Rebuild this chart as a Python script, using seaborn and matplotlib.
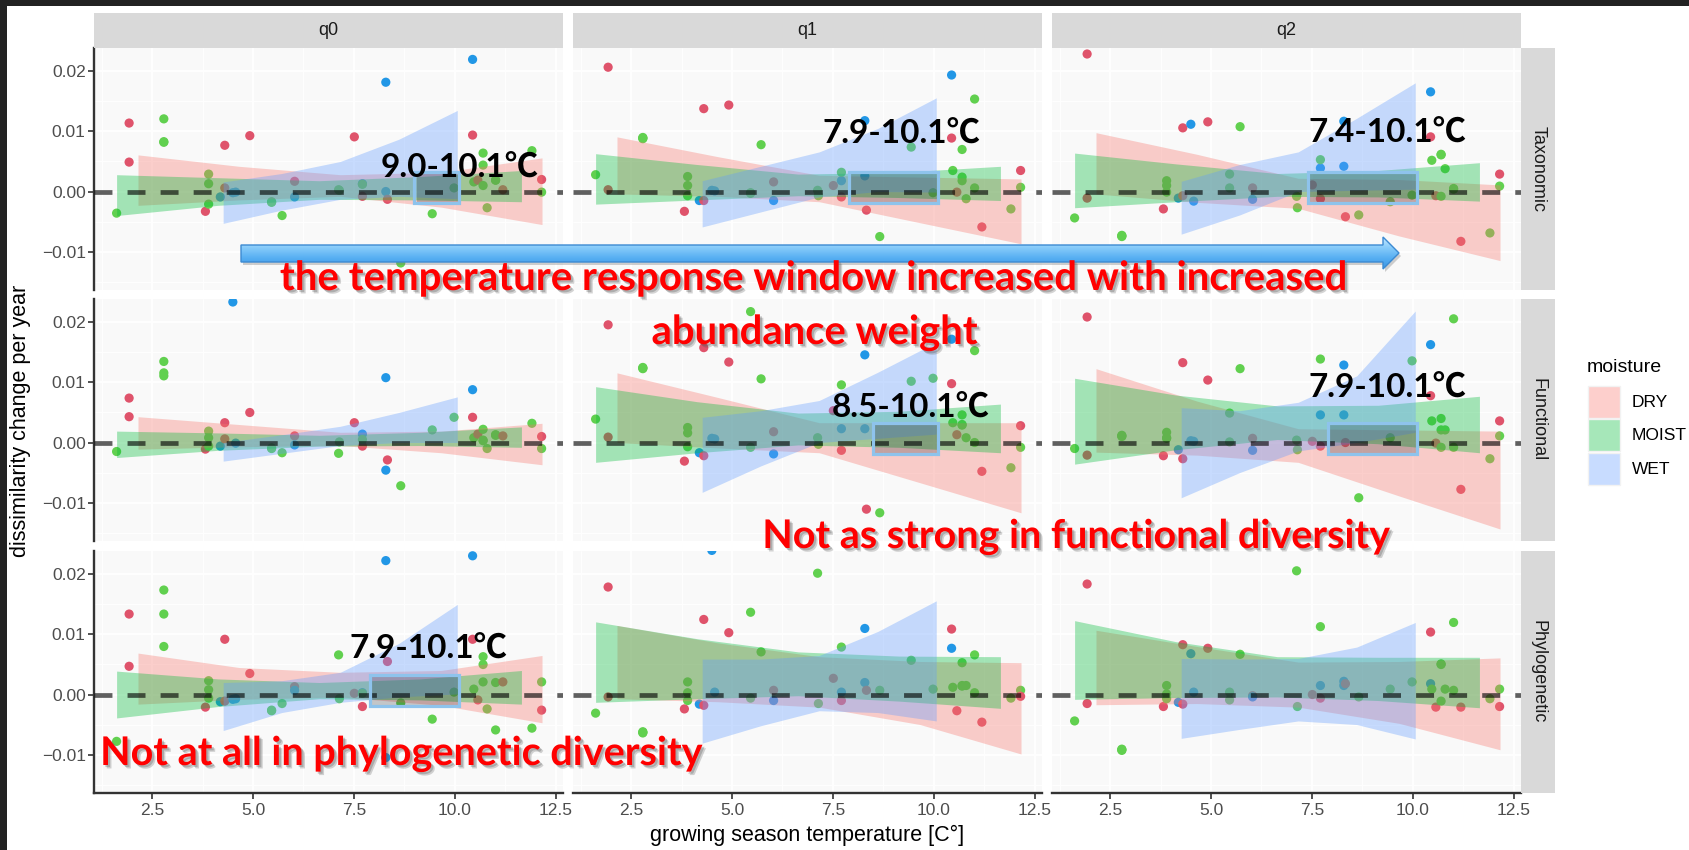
import numpy as np
import pandas as pd
import matplotlib
matplotlib.use("Agg")
import matplotlib.pyplot as plt
import matplotlib.patheffects as pe
from matplotlib.patches import Rectangle, Polygon
from matplotlib.colors import LinearSegmentedColormap, to_rgb
from matplotlib.ticker import FuncFormatter, FixedLocator
import seaborn as sns

# ---------------------------------------------------------------- data
metrics = ["Taxonomic", "Functional", "Phylogenetic"]
orders = ["q0", "q1", "q2"]
moisture_levels = ["DRY", "MOIST", "WET"]

# growing season temperature and moisture class of each site
temp = [1.62, 1.93, 1.93, 2.79, 2.79, 2.79, 3.82, 3.90, 3.90, 3.90, 4.19, 4.30,
        4.30, 4.50, 4.57, 4.92, 5.46, 5.46, 5.72, 6.03, 6.03, 7.12, 7.14, 7.51,
        7.71, 7.71, 7.71, 8.29, 8.29, 8.33, 8.66, 9.44, 9.98, 10.44, 10.44, 10.47,
        10.57, 10.70, 10.70, 10.70, 10.80, 11.01, 11.01, 11.19, 11.91, 12.15, 12.15]
moisture = ["MOIST", "DRY", "DRY", "MOIST", "MOIST", "MOIST", "DRY", "MOIST", "MOIST",
            "MOIST", "WET", "DRY", "DRY", "WET", "WET", "DRY", "MOIST", "MOIST", "MOIST",
            "DRY", "WET", "MOIST", "MOIST", "DRY", "WET", "DRY", "MOIST", "WET", "WET",
            "DRY", "MOIST", "MOIST", "MOIST", "WET", "DRY", "MOIST", "DRY", "MOIST",
            "MOIST", "MOIST", "MOIST", "MOIST", "MOIST", "DRY", "MOIST", "MOIST", "DRY"]

# dissimilarity change per year, one value per site
tax_q0 = [-0.0036, 0.0114, 0.0049, 0.0121, 0.0083, 0.0082, -0.0033, 0.0029, 0.0013, -0.0021,
          -0.0009, 0.0077, 0.0006, -0.0002, -0.0001, 0.0093, -0.0018, -0.0017, -0.0040, 0.0017,
          -0.0009, 0.0003, 0.0002, 0.0091, 0.0013, -0.0008, 0.0012, 0.0182, 0.0000, -0.0013,
          -0.0119, -0.0037, 0.0006, 0.0220, 0.0094, 0.0016, 0.0019, 0.0064, 0.0044, 0.0010,
          -0.0027, 0.0019, 0.0019, 0.0003, 0.0068, -0.0001, 0.0020]
tax_q1 = [0.0028, 0.0207, 0.0003, 0.0089, 0.0088, 0.0090, -0.0033, 0.0025, 0.0010, -0.0007,
          -0.0015, 0.0138, -0.0015, 0.0002, 0.0001, 0.0144, -0.0002, -0.0003, 0.0078, 0.0016,
          -0.0015, 0.0002, -0.0007, 0.0010, 0.0018, -0.0009, 0.0032, 0.0118, 0.0026, -0.0031,
          -0.0075, 0.0074, -0.0002, 0.0194, 0.0089, 0.0035, -0.0001, 0.0070, 0.0024, 0.0018,
          -0.0012, 0.0154, 0.0006, -0.0059, -0.0029, 0.0007, 0.0035]
tax_q2 = [-0.0044, 0.0229, -0.0011, -0.0074, -0.0073, -0.0075, -0.0029, 0.0018, 0.0010, -0.0001,
          -0.0011, 0.0106, -0.0007, 0.0112, -0.0016, 0.0116, 0.0029, 0.0006, 0.0108, 0.0006,
          -0.0013, -0.0008, -0.0027, 0.0011, 0.0039, -0.0012, 0.0053, 0.0117, 0.0042, -0.0042,
          -0.0039, -0.0017, -0.0006, 0.0166, 0.0091, 0.0052, -0.0007, 0.0062, -0.0008, 0.0061,
          0.0038, 0.0004, 0.0005, -0.0083, -0.0069, 0.0009, 0.0029]
fun_q0 = [-0.0015, 0.0074, 0.0043, 0.0135, 0.0116, 0.0111, -0.0011, 0.0019, 0.0008, -0.0006,
          -0.0006, 0.0033, 0.0006, 0.0234, -0.0001, 0.0050, -0.0010, -0.0009, -0.0017, 0.0011,
          -0.0004, -0.0018, 0.0001, 0.0033, 0.0014, -0.0006, 0.0005, 0.0108, -0.0046, -0.0029,
          -0.0072, 0.0021, 0.0042, 0.0088, 0.0042, 0.0008, 0.0014, 0.0022, 0.0003, 0.0004,
          -0.0010, 0.0013, 0.0012, 0.0011, 0.0032, -0.0010, 0.0010]
fun_q1 = [0.0039, 0.0196, 0.0009, 0.0124, 0.0123, 0.0125, -0.0031, 0.0025, 0.0016, -0.0007,
          -0.0017, 0.0158, -0.0022, 0.0007, 0.0006, 0.0134, 0.0218, -0.0008, 0.0106, 0.0018,
          -0.0019, 0.0008, -0.0003, 0.0053, 0.0023, -0.0013, 0.0096, 0.0146, 0.0023, -0.0111,
          -0.0117, 0.0102, 0.0107, 0.0172, 0.0098, 0.0033, 0.0013, 0.0046, 0.0029, 0.0030,
          0.0008, 0.0153, 0.0000, -0.0048, -0.0042, -0.0008, 0.0028]
fun_q2 = [-0.0010, 0.0209, -0.0021, 0.0011, 0.0012, 0.0010, -0.0022, 0.0017, 0.0008, 0.0007,
          -0.0012, 0.0133, -0.0027, 0.0003, 0.0002, 0.0104, 0.0049, 0.0001, 0.0123, 0.0007,
          -0.0013, 0.0004, -0.0012, 0.0002, 0.0046, -0.0006, 0.0139, 0.0129, 0.0046, 0.0000,
          -0.0092, 0.0008, 0.0136, 0.0163, 0.0078, 0.0036, -0.0001, 0.0040, 0.0021, -0.0008,
          0.0021, 0.0206, -0.0008, -0.0078, -0.0027, 0.0011, 0.0036]
phy_q0 = [-0.0078, 0.0134, 0.0047, 0.0174, 0.0134, 0.0080, -0.0021, 0.0023, 0.0008, -0.0006,
          -0.0012, 0.0092, -0.0011, -0.0008, -0.0007, 0.0035, -0.0027, -0.0026, -0.0015, 0.0013,
          0.0007, 0.0066, -0.0007, 0.0002, 0.0003, -0.0020, 0.0002, 0.0223, -0.0105, 0.0055,
          -0.0014, -0.0041, 0.0004, 0.0231, 0.0092, 0.0009, -0.0009, 0.0063, 0.0050, 0.0021,
          -0.0024, 0.0020, -0.0059, 0.0021, -0.0056, 0.0021, -0.0026]
phy_q1 = [-0.0031, 0.0179, -0.0004, -0.0063, -0.0062, -0.0064, -0.0024, 0.0021, 0.0003, -0.0010,
          -0.0016, 0.0125, -0.0018, 0.0240, 0.0004, 0.0103, 0.0137, -0.0006, 0.0071, 0.0007,
          -0.0010, 0.0202, -0.0015, 0.0027, 0.0004, -0.0010, 0.0079, 0.0110, 0.0020, 0.0007,
          0.0007, 0.0057, 0.0009, 0.0077, 0.0109, 0.0012, -0.0027, 0.0053, 0.0015, 0.0014,
          0.0015, 0.0066, 0.0003, -0.0046, -0.0006, 0.0007, -0.0003]
phy_q2 = [-0.0044, 0.0184, -0.0015, -0.0092, -0.0091, -0.0093, -0.0020, 0.0015, 0.0001, -0.0007,
          -0.0013, 0.0083, -0.0016, 0.0068, 0.0004, 0.0077, 0.0004, -0.0009, 0.0067, -0.0002,
          -0.0004, 0.0206, -0.0020, 0.0000, 0.0015, -0.0006, 0.0113, 0.0022, 0.0015, 0.0018,
          -0.0004, 0.0009, 0.0021, 0.0018, 0.0104, 0.0009, -0.0021, 0.0051, -0.0011, 0.0050,
          0.0009, 0.0120, 0.0007, -0.0021, -0.0007, 0.0009, -0.0020]

# confidence ribbons: temperatures at which the bounds are given, per moisture class
band_temp = {"DRY": [2.15, 4.65, 7.16, 9.66, 12.16],
             "MOIST": [1.62, 4.13, 6.64, 9.14, 11.65],
             "WET": [4.26, 5.71, 7.16, 8.61, 10.06]}

# (lower, upper) bounds of each ribbon
tax_q0_band = {"DRY": ([-0.0023, -0.0014, -0.0008, -0.0026, -0.0055], [0.0061, 0.0042, 0.0028, 0.0032, 0.0056]),
               "MOIST": ([-0.0040, -0.0023, -0.0013, -0.0014, -0.0017], [0.0028, 0.0023, 0.0018, 0.0025, 0.0035]),
               "WET": ([-0.0053, -0.0031, -0.0013, -0.0008, -0.0012], [0.0016, 0.0030, 0.0050, 0.0087, 0.0135])}
tax_q1_band = {"DRY": ([-0.0004, -0.0008, -0.0017, -0.0052, -0.0087], [0.0091, 0.0058, 0.0027, 0.0024, 0.0021]),
               "MOIST": ([-0.0021, -0.0014, -0.0007, -0.0010, -0.0015], [0.0063, 0.0045, 0.0029, 0.0032, 0.0042]),
               "WET": ([-0.0059, -0.0034, -0.0009, 0.0000, -0.0001], [0.0018, 0.0042, 0.0066, 0.0105, 0.0156])}
tax_q2_band = {"DRY": ([-0.0004, -0.0018, -0.0028, -0.0074, -0.0115], [0.0098, 0.0062, 0.0022, 0.0020, 0.0011]),
               "MOIST": ([-0.0027, -0.0017, -0.0008, -0.0009, -0.0016], [0.0064, 0.0046, 0.0030, 0.0035, 0.0048]),
               "WET": ([-0.0071, -0.0039, 0.0000, 0.0002, 0.0004], [0.0017, 0.0045, 0.0066, 0.0122, 0.0181])}
fun_q0_band = {"DRY": ([-0.0011, -0.0007, -0.0005, -0.0017, -0.0037], [0.0043, 0.0030, 0.0017, 0.0019, 0.0032]),
               "MOIST": ([-0.0025, -0.0013, -0.0006, -0.0005, -0.0008], [0.0019, 0.0016, 0.0012, 0.0017, 0.0026]),
               "WET": ([-0.0031, -0.0018, -0.0005, 0.0000, 0.0000], [0.0000, 0.0013, 0.0027, 0.0050, 0.0076])}
fun_q1_band = {"DRY": ([0.0000, -0.0009, -0.0017, -0.0067, -0.0117], [0.0116, 0.0075, 0.0033, 0.0033, 0.0033]),
               "MOIST": ([-0.0033, -0.0017, -0.0004, -0.0008, -0.0017], [0.0093, 0.0068, 0.0049, 0.0052, 0.0064]),
               "WET": ([-0.0083, -0.0039, 0.0000, 0.0007, 0.0014], [0.0042, 0.0053, 0.0070, 0.0117, 0.0167])}
fun_q2_band = {"DRY": ([-0.0016, -0.0021, -0.0033, -0.0089, -0.0144], [0.0123, 0.0069, 0.0023, 0.0021, 0.0019]),
               "MOIST": ([-0.0036, -0.0012, 0.0005, -0.0002, -0.0017], [0.0107, 0.0079, 0.0061, 0.0062, 0.0077]),
               "WET": ([-0.0092, -0.0050, -0.0014, 0.0000, 0.0017], [0.0058, 0.0053, 0.0067, 0.0111, 0.0219])}
phy_q0_band = {"DRY": ([-0.0016, -0.0008, -0.0004, -0.0018, -0.0047], [0.0069, 0.0045, 0.0037, 0.0040, 0.0065]),
               "MOIST": ([-0.0039, -0.0020, -0.0007, -0.0009, -0.0016], [0.0039, 0.0026, 0.0020, 0.0026, 0.0040]),
               "WET": ([-0.0060, -0.0030, -0.0013, -0.0004, 0.0001], [0.0020, 0.0023, 0.0037, 0.0085, 0.0150])}
phy_q1_band = {"DRY": ([-0.0007, -0.0012, -0.0021, -0.0050, -0.0099], [0.0115, 0.0086, 0.0063, 0.0055, 0.0053]),
               "MOIST": ([-0.0013, -0.0007, -0.0002, -0.0011, -0.0023], [0.0121, 0.0093, 0.0071, 0.0064, 0.0063]),
               "WET": ([-0.0081, -0.0052, -0.0027, -0.0030, -0.0044], [0.0059, 0.0059, 0.0065, 0.0105, 0.0156])}
phy_q2_band = {"DRY": ([-0.0017, -0.0015, -0.0021, -0.0048, -0.0092], [0.0107, 0.0080, 0.0054, 0.0055, 0.0061]),
               "MOIST": ([-0.0008, -0.0005, -0.0004, -0.0010, -0.0022], [0.0123, 0.0088, 0.0063, 0.0062, 0.0062]),
               "WET": ([-0.0073, -0.0058, -0.0044, -0.0050, -0.0074], [0.0060, 0.0059, 0.0060, 0.0079, 0.0120])}

# temperature response windows (start, end) highlighted in some panels
window_tax_q0 = (9.0, 10.1)
window_tax_q1 = (7.9, 10.1)
window_tax_q2 = (7.4, 10.1)
window_fun_q1 = (8.5, 10.1)
window_fun_q2 = (7.9, 10.1)
window_phy_q0 = (7.9, 10.1)

x_ticks = [2.5, 5.0, 7.5, 10.0, 12.5]
y_ticks = [-0.01, 0.00, 0.01, 0.02]

headline = ["the temperature response window increased with increased", "abundance weight"]
note_functional = "Not as strong in functional diversity"
note_phylogenetic = "Not at all in phylogenetic diversity"

# ---------------------------------------------------------------- tables
values = {("Taxonomic", "q0"): tax_q0, ("Taxonomic", "q1"): tax_q1, ("Taxonomic", "q2"): tax_q2,
          ("Functional", "q0"): fun_q0, ("Functional", "q1"): fun_q1, ("Functional", "q2"): fun_q2,
          ("Phylogenetic", "q0"): phy_q0, ("Phylogenetic", "q1"): phy_q1, ("Phylogenetic", "q2"): phy_q2}
bands = {("Taxonomic", "q0"): tax_q0_band, ("Taxonomic", "q1"): tax_q1_band, ("Taxonomic", "q2"): tax_q2_band,
         ("Functional", "q0"): fun_q0_band, ("Functional", "q1"): fun_q1_band, ("Functional", "q2"): fun_q2_band,
         ("Phylogenetic", "q0"): phy_q0_band, ("Phylogenetic", "q1"): phy_q1_band, ("Phylogenetic", "q2"): phy_q2_band}
windows = {("Taxonomic", "q0"): window_tax_q0, ("Taxonomic", "q1"): window_tax_q1,
           ("Taxonomic", "q2"): window_tax_q2, ("Functional", "q1"): window_fun_q1,
           ("Functional", "q2"): window_fun_q2, ("Phylogenetic", "q0"): window_phy_q0}

records = []
for (metric, q), vals in values.items():
    for t, m, v in zip(temp, moisture, vals):
        records.append({"metric": metric, "q": q, "temp": t, "moisture": m, "value": v})
df = pd.DataFrame(records)

# ---------------------------------------------------------------- style
point_pal = {"DRY": "#DF536B", "MOIST": "#61D04F", "WET": "#2297E6"}
fill_pal = {"DRY": "#F8766D", "MOIST": "#00BA38", "WET": "#619CFF"}
fill_alpha = 0.35

sns.set_theme(style="white")
plt.rcParams["font.family"] = ["Liberation Sans", "DejaVu Sans"]

W, H = 1690, 850
fig = plt.figure(figsize=(W / 100, H / 100), dpi=100, facecolor="white")


def px_axes(x0, y0, x1, y1, **kw):
    return fig.add_axes([x0 / W, 1 - y1 / H, (x1 - x0) / W, (y1 - y0) / H], **kw)


col_px = [(94, 563), (573, 1042), (1052, 1521)]
row_px = [(48, 290), (299, 541), (551, 793)]
strip_top = (13, 48)
strip_right = (1521, 1555)

x_minor = [1.25, 3.75, 6.25, 8.75, 11.25]
y_minor = [-0.015, -0.005, 0.005, 0.015]
axis_col = "#333333"
label_col = "#4D4D4D"

fmt_y = FuncFormatter(lambda v, p: f"{v:.2f}".replace("-", "\u2212"))
fmt_x = FuncFormatter(lambda v, p: f"{v:.1f}")

box_lo, box_hi = -0.0019, 0.0033

for i, metric in enumerate(metrics):
    for j, q in enumerate(orders):
        ax = px_axes(col_px[j][0], row_px[i][0], col_px[j][1], row_px[i][1])
        ax.set_facecolor("#F9F9F9")
        sub = df[(df.metric == metric) & (df.q == q)]
        sns.scatterplot(data=sub, x="temp", y="value", hue="moisture",
                        hue_order=moisture_levels, palette=point_pal, s=44,
                        linewidth=0, legend=False, ax=ax, zorder=2)
        for m in moisture_levels:
            lo, hi = bands[(metric, q)][m]
            ax.fill_between(band_temp[m], lo, hi, color=fill_pal[m], alpha=fill_alpha,
                            lw=0, zorder=3)
        ax.axhline(0, color="black", alpha=0.62, lw=3.4, dashes=(3.8, 3.2), zorder=4)

        if (metric, q) in windows:
            w0, w1 = windows[(metric, q)]
            rect = Rectangle((w0, box_lo), w1 - w0, box_hi - box_lo, fill=True,
                             facecolor=(0.1, 0.2, 0.3, 0.025), edgecolor="#8EC3EC",
                             lw=2.3, zorder=5)
            rect.set_path_effects([pe.SimplePatchShadow(offset=(1.5, -1.5), alpha=0.2),
                                   pe.Normal()])
            ax.add_patch(rect)

        ax.set_xlim(1.06, 12.68)
        ax.set_ylim(-0.0164, 0.0239)
        ax.xaxis.set_major_locator(FixedLocator(x_ticks))
        ax.xaxis.set_minor_locator(FixedLocator(x_minor))
        ax.yaxis.set_major_locator(FixedLocator(y_ticks))
        ax.yaxis.set_minor_locator(FixedLocator(y_minor))
        ax.xaxis.set_major_formatter(fmt_x)
        ax.yaxis.set_major_formatter(fmt_y)
        ax.grid(True, which="major", color="white", lw=1.3)
        ax.grid(True, which="minor", color="white", lw=0.6)
        ax.set_axisbelow(True)
        ax.set_xlabel("")
        ax.set_ylabel("")
        for s in ax.spines.values():
            s.set_visible(False)
        ax.tick_params(which="both", left=False, bottom=False, length=0,
                       labelleft=False, labelbottom=False)
        if j == 0:
            ax.spines["left"].set_visible(True)
            ax.spines["left"].set_color(axis_col)
            ax.spines["left"].set_linewidth(1.7)
            ax.tick_params(axis="y", which="major", left=True, length=4, width=1.2,
                           color=axis_col, labelleft=True, labelsize=12.5,
                           labelcolor=label_col, pad=2)
        if i == 2:
            ax.spines["bottom"].set_visible(True)
            ax.spines["bottom"].set_color(axis_col)
            ax.spines["bottom"].set_linewidth(1.7)
            ax.tick_params(axis="x", which="major", bottom=True, length=4, width=1.2,
                           color=axis_col, labelbottom=True, labelsize=12.5,
                           labelcolor=label_col, pad=3)

# facet strips
for j, q in enumerate(orders):
    sax = px_axes(col_px[j][0], strip_top[0], col_px[j][1], strip_top[1])
    sax.set_facecolor("#D9D9D9")
    sax.set_xticks([]); sax.set_yticks([])
    for s in sax.spines.values():
        s.set_visible(False)
    sax.text(0.5, 0.5, q, ha="center", va="center", size=13, color="#1A1A1A",
             transform=sax.transAxes)
for i, metric in enumerate(metrics):
    sax = px_axes(strip_right[0], row_px[i][0], strip_right[1], row_px[i][1])
    sax.set_facecolor("#D9D9D9")
    sax.set_xticks([]); sax.set_yticks([])
    for s in sax.spines.values():
        s.set_visible(False)
    sax.text(0.5, 0.5, metric, ha="center", va="center", rotation=-90, size=13,
             color="#1A1A1A", transform=sax.transAxes)

fig.text(21 / W, 1 - 421 / H, "dissimilarity change per year", rotation=90,
         ha="center", va="center", size=15.5, color="black")
fig.text(807.5 / W, 1 - 835 / H, "growing season temperature [C°]",
         ha="center", va="center", size=15.5, color="black")

# ---------------------------------------------------------------- overlay (pixel coordinates)
ov = fig.add_axes([0, 0, 1, 1], zorder=10)
ov.set_xlim(0, W)
ov.set_ylim(H, 0)
ov.set_autoscale_on(False)
ov.axis("off")
ov.patch.set_alpha(0)

# screen frame
ov.add_patch(Rectangle((0, 0), W, 6, color="#222222", lw=0))
ov.add_patch(Rectangle((0, 0), 7, H, color="#222222", lw=0))

# legend
ov.text(1587, 367, "moisture", ha="left", va="center", size=14, color="black")
key_top = [386, 419, 453]
for m, y0 in zip(moisture_levels, key_top):
    c = np.array(to_rgb(fill_pal[m]))
    blended = 1 - fill_alpha * (1 - c)
    ov.add_patch(Rectangle((1588, y0), 32, 32, facecolor=blended, edgecolor="#F2F2F2", lw=1))
    ov.text(1632, y0 + 16.5, m, ha="left", va="center", size=12.5, color="black")

renderer = fig.canvas.get_renderer()


def fit_text(x, y, s, width, **kw):
    t = ov.text(x, y, s, fontsize=20, **kw)
    for _ in range(3):
        w = t.get_window_extent(renderer).width
        t.set_fontsize(t.get_fontsize() * width / w)
    return t


# window labels
label_px = {("Taxonomic", "q0"): (460, 177), ("Taxonomic", "q1"): (902, 143),
            ("Taxonomic", "q2"): (1388, 142), ("Functional", "q1"): (911, 417),
            ("Functional", "q2"): (1388, 397), ("Phylogenetic", "q0"): (429, 658)}
for key, (lx, ly) in label_px.items():
    w0, w1 = windows[key]
    fit_text(lx, ly, f"{w0:.1f}-{w1:.1f}\u2103", 158, ha="center", va="baseline",
             color="black", fontweight="bold", family=["Lato", "Noto Sans CJK SC"])

# arrow with vertical gradient
arrow_verts = [(241, 245), (1383, 245), (1383, 237), (1399, 253), (1383, 269),
               (1383, 262), (241, 262)]
shadow = Polygon([(x + 2, y + 3) for x, y in arrow_verts], closed=True,
                 facecolor="#7A7A7A", alpha=0.35, lw=0, zorder=5)
ov.add_patch(shadow)
grad = np.linspace(0, 1, 64)[:, None]
arrow_cmap = LinearSegmentedColormap.from_list(
    "arrow_blue", ["#C4E8FF", "#86CBFA", "#56AEF2", "#3A96E4"])
im = ov.imshow(grad, extent=(241, 1399, 269, 237), cmap=arrow_cmap, aspect="auto",
               origin="upper", zorder=6)
arrow = Polygon(arrow_verts, closed=True, facecolor="none", edgecolor="#3C8AD2",
                lw=1.0, zorder=7)
ov.add_patch(arrow)
im.set_clip_path(arrow)
ov.set_xlim(0, W)
ov.set_ylim(H, 0)

# red notes
red_fx = [pe.SimplePatchShadow(offset=(2.5, -2.5), shadow_rgbFace="#555555", alpha=0.25),
          pe.SimplePatchShadow(offset=(1.5, -1.5), shadow_rgbFace="#555555", alpha=0.3),
          pe.Normal()]
red_kw = dict(ha="center", va="baseline", color="#FF0000", fontweight="bold",
              family=["Lato", "DejaVu Sans"], zorder=8)
t = fit_text(815, 290, headline[0], 1064, **red_kw)
t.set_path_effects(red_fx)
t = fit_text(815, 344, headline[1], 325, **red_kw)
t.set_path_effects(red_fx)
t = fit_text(1076, 548, note_functional, 627, **red_kw)
t.set_path_effects(red_fx)
t = fit_text(401, 765, note_phylogenetic, 602, **red_kw)
t.set_path_effects(red_fx)

fig.savefig("out.png", dpi=100, facecolor="white")
